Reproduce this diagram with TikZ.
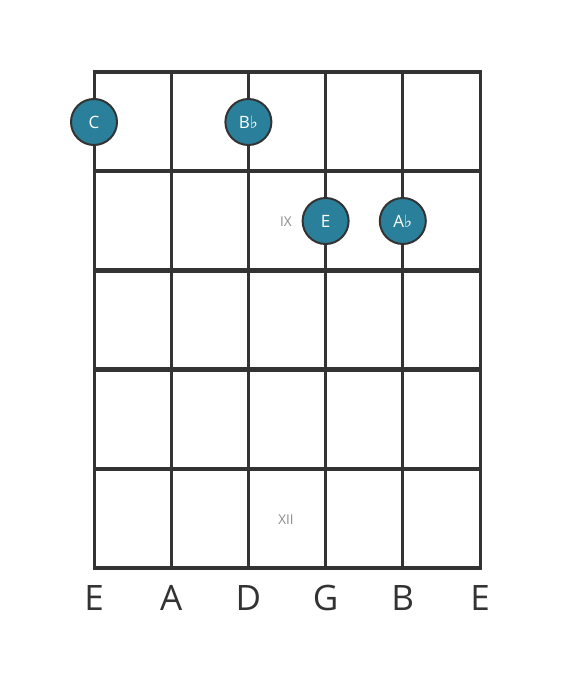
\documentclass[tikz,border=0pt]{standalone}
\usepackage{fontspec}
\setmainfont{Open Sans}
\newfontfamily\flatfont{DejaVu Sans}
\definecolor{fretline}{HTML}{333333}
\definecolor{notefill}{HTML}{2A7F9B}
\definecolor{markgray}{HTML}{8A8A8A}
\newcommand{\flt}{{\flatfont\char"266D}}

\begin{document}
\begin{tikzpicture}[x = 1pt, y = -1pt,
	note/.style = {circle, draw = fretline, line width = 2pt, fill = notefill, minimum size = 46pt, inner sep = 0pt, text = white, font = \fontsize{17}{17}\selectfont},
	marker/.style = {text = markgray, font = \fontsize{13.5}{13.5}\selectfont},
	strname/.style = {text = fretline, font = \fontsize{35}{35}\selectfont}]

	\useasboundingbox (0, 0) rectangle (560, 682);

	% Strings
	
	\foreach \x in {94, 171.2, 248.4, 325.6, 402.8, 480}
		\draw [fretline, line width = 3pt] (\x, 72) -- (\x, 568);

	% Frets
	
	\foreach \y in {72, 171.2, 270.4, 369.6, 468.8, 568}
		\draw [fretline, line width = 4.5pt] (92.5, \y) -- (481.5, \y);
	
	% Fret markers
	
	\node [marker] (ix) at (286, 222) {IX};
	\node [marker] (xii) at (286, 520) {XII};
	
	% Notes
	
	\node [note] (c) at (94, 122) {C};
	\node [note] (bb) at (248.4, 122) {B\flt};
	\node [note] (e) at (325.6, 221) {E};
	\node [note] (ab) at (402.8, 221) {A\flt};
	
	% String names
	
	\foreach \x/\s/\n in {94/E/lowe, 171.2/A/a, 248.4/D/d, 325.6/G/g, 402.8/B/b, 480/E/highe}
		\node [strname] (\n) at (\x, 598) {\s};

\end{tikzpicture}
\end{document}
